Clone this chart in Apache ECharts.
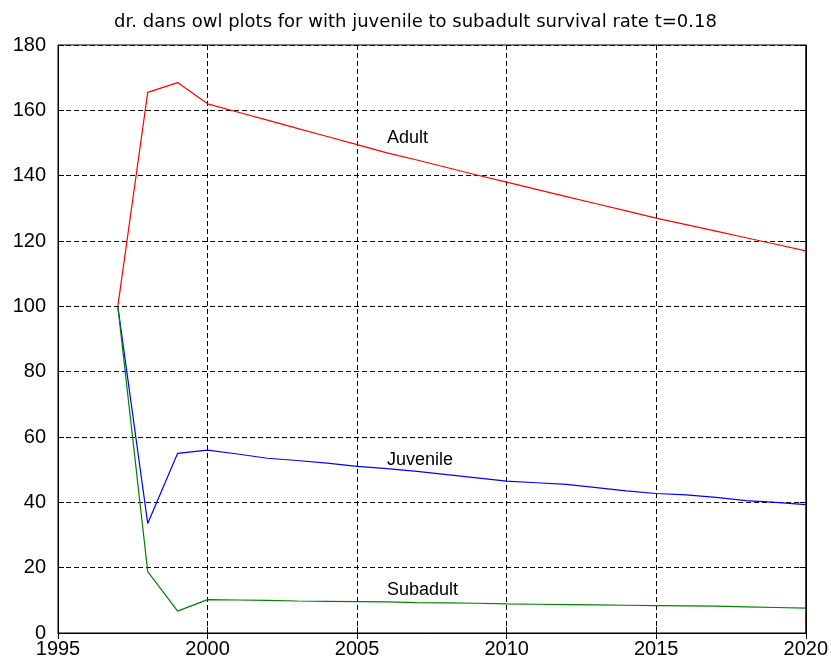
<!DOCTYPE html>
<html><head><meta charset="utf-8">
<script src="https://cdn.jsdelivr.net/npm/echarts@6/dist/echarts.min.js"></script>
<style>html,body{margin:0;padding:0;background:#fff}#c{width:831px;height:665px}</style>
</head><body><div id="c"></div>
<script>
const years = [1997,1998,1999,2000,2001,2002,2003,2004,2005,2006,2007,2008,2009,2010,2011,2012,2013,2014,2015,2016,2017,2018,2019,2020];
const adult = [100,165.5,168.5,162,159.5,157,154.5,152,149.5,147,144.8,142.5,140.2,138,135.8,133.6,131.4,129.2,127,125,123,121,119,117];
const juvenile = [100,33.5,55,56,54.8,53.5,52.8,52,51,50.3,49.5,48.5,47.5,46.5,46,45.5,44.5,43.5,42.7,42.3,41.5,40.5,40,39.3];
const subadult = [100,18.8,6.7,10.2,10.1,10,9.8,9.7,9.6,9.5,9.3,9.2,9.1,8.9,8.8,8.7,8.6,8.5,8.4,8.3,8.2,8,7.8,7.6];
const seriesNames = ['Adult','Juvenile','Subadult'];
const labelPos = [[2006,151.5],[2006,53],[2006,13.2]];
const colors = ['#ff0000','#0000ff','#008000'];
const titleText = 'dr. dans owl plots for with juvenile to subadult survival rate t=0.18';

const font = 'Liberation Sans, Arial, sans-serif';
const dataSets = [adult, juvenile, subadult];
const series = dataSets.map((d,i)=>({
  name: seriesNames[i], type:'line', xAxisIndex:0, yAxisIndex:0,
  data: years.map((y,k)=>[y,d[k]]),
  showSymbol:false, symbol:'none', animation:false,
  lineStyle:{color:colors[i], width:1.2},
  markPoint:{symbol:'circle', symbolSize:0, silent:true, animation:false,
    data:[{coord:labelPos[i], value:seriesNames[i]}],
    label:{show:true, position:'right', distance:0, formatter:seriesNames[i], color:'#000', fontFamily:font, fontSize:18}}
}));
const chart = echarts.init(document.getElementById('c'));
chart.setOption({
  animation:false,
  title:{text:titleText, left:'center', top:8, textStyle:{fontFamily:'DejaVu Sans, sans-serif', fontSize:18, fontWeight:'normal', color:'#000'}},
  grid:{left:58, right:24, top:45, bottom:32, show:true, borderColor:'#000', borderWidth:1},
  xAxis:[{type:'value', min:1995, max:2020, interval:5, position:'bottom',
    axisLine:{show:true, lineStyle:{color:'#000'}},
    axisTick:{show:true, inside:true, length:6, lineStyle:{color:'#000'}},
    axisLabel:{color:'#000', fontFamily:font, fontSize:20, margin:6, formatter:v=>String(v)},
    splitLine:{show:true, lineStyle:{color:'#000', type:[5,3], width:1}}},
   {type:'value', min:1995, max:2020, interval:5, position:'top',
    axisLine:{show:true, lineStyle:{color:'#000'}},
    axisTick:{show:true, inside:true, length:6, lineStyle:{color:'#000'}},
    axisLabel:{show:false}, splitLine:{show:false}}],
  yAxis:[{type:'value', min:0, max:180, interval:20, position:'left',
    axisLine:{show:true, lineStyle:{color:'#000'}},
    axisTick:{show:true, inside:true, length:6, lineStyle:{color:'#000'}},
    axisLabel:{color:'#000', fontFamily:font, fontSize:20, margin:12},
    splitLine:{show:true, lineStyle:{color:'#000', type:[5,3], width:1}}},
   {type:'value', min:0, max:180, interval:20, position:'right',
    axisLine:{show:true, lineStyle:{color:'#000'}},
    axisTick:{show:true, inside:true, length:6, lineStyle:{color:'#000'}},
    axisLabel:{show:false}, splitLine:{show:false}}],
  series: series
});
</script></body></html>
